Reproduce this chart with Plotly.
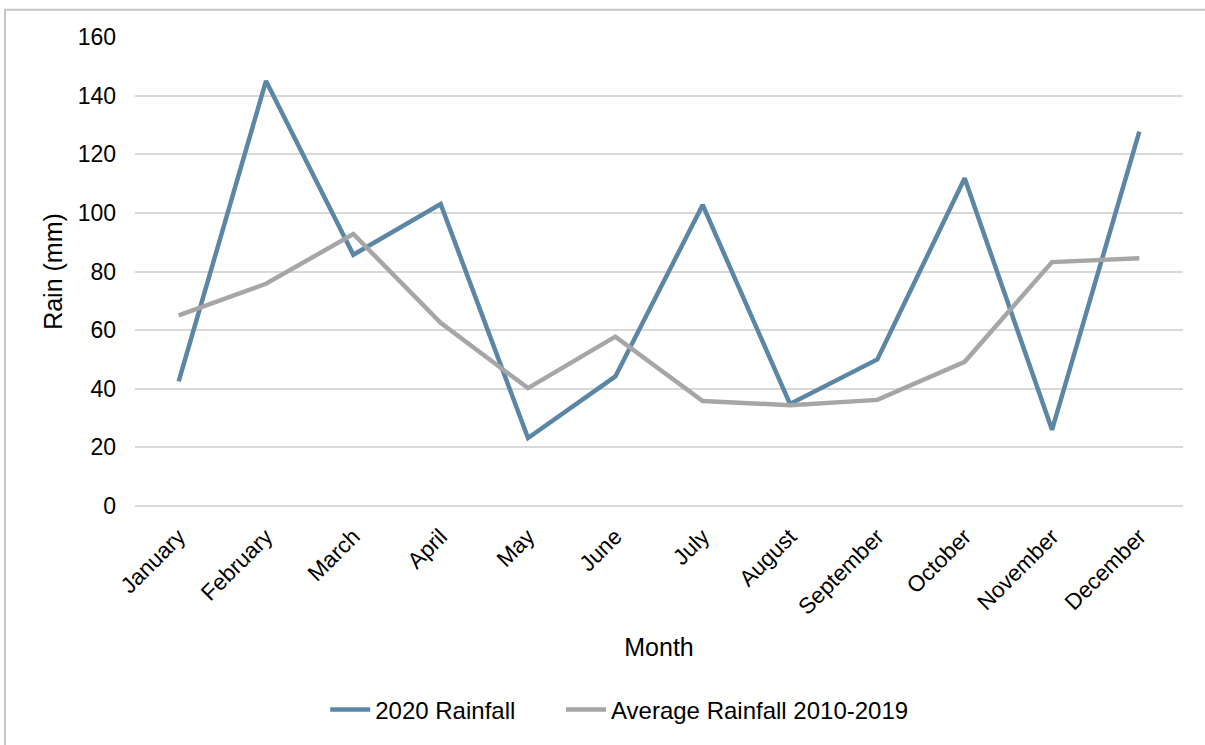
import plotly.graph_objects as go

months = ["January", "February", "March", "April", "May", "June", "July",
          "August", "September", "October", "November", "December"]
rain_2020 = [42.5, 145, 85.7, 103, 23.2, 44.2, 102.7, 34.8, 50, 111.8, 26, 127.7]
rain_avg_2010_2019 = [65, 75.8, 92.8, 62.5, 40.2, 57.8, 35.8, 34.4, 36.2, 49.2, 83.2, 84.5]

FONT = "Liberation Sans, Arial, sans-serif"
BLUE = "#5B87A4"
GREY = "#A6A6A6"
GRID = "#D9D9D9"

fig = go.Figure()
fig.add_trace(go.Scatter(
    x=months, y=rain_2020, name="2020 Rainfall", mode="lines",
    line=dict(color=BLUE, width=4.5), legend="legend",
))
fig.add_trace(go.Scatter(
    x=months, y=rain_avg_2010_2019, name="Average Rainfall 2010-2019", mode="lines",
    line=dict(color=GREY, width=4.5), legend="legend2",
))

legend_style = dict(
    orientation="h", y=-0.435, yanchor="middle", xanchor="left",
    font=dict(size=24), itemwidth=40, bgcolor="rgba(0,0,0,0)",
)

fig.update_layout(
    width=1205, height=745,
    margin=dict(l=135, r=22, t=37, b=237),
    paper_bgcolor="white", plot_bgcolor="white",
    font=dict(family=FONT, size=23, color="#000000"),
    showlegend=True,
    legend=dict(x=0.1815, **legend_style),
    legend2=dict(x=0.4065, **legend_style),
    xaxis=dict(
        type="category", range=[-0.5, len(months) - 0.5], tickangle=-45,
        showgrid=False, showline=False, ticks="", ticklabelstandoff=12,
        tickfont=dict(size=22.5),
        title=dict(text="Month", font=dict(size=25), standoff=19),
        automargin=False,
    ),
    yaxis=dict(
        range=[0, 160], dtick=20, showgrid=True, gridcolor=GRID, gridwidth=1.5,
        zeroline=True, zerolinecolor=GRID, zerolinewidth=1.5, showline=False,
        ticks="", ticklabelstandoff=18, tickfont=dict(size=23),
        title=dict(text="Rain (mm)", font=dict(size=25), standoff=7),
        automargin=False,
    ),
    shapes=[dict(
        type="rect", xref="paper", yref="paper",
        x0=-0.124, x1=1.2, y0=-0.6, y1=1.058,
        line=dict(color="#C6C6C6", width=2), fillcolor="rgba(0,0,0,0)",
        layer="below",
    )],
)

fig.write_html("out.html")
